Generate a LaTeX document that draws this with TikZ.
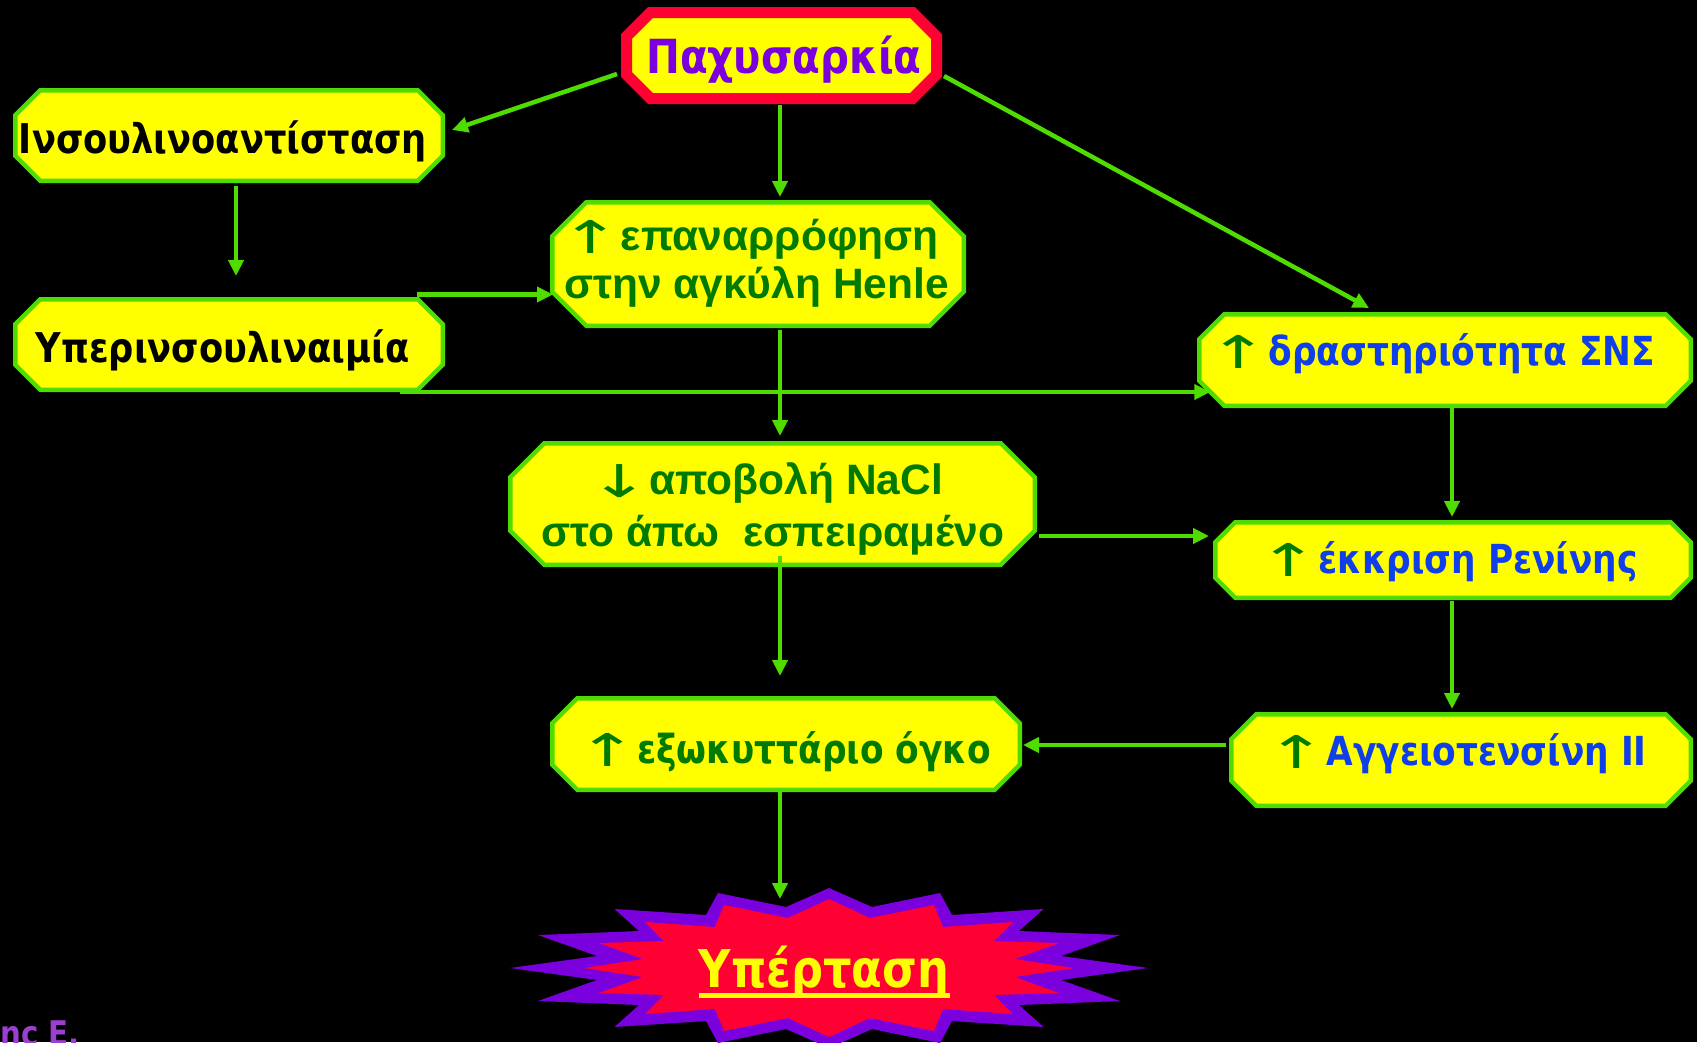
\documentclass[tikz,border=0pt]{standalone}
\usepackage{fontspec}
\setmainfont{Liberation Sans}
\newfontfamily\tah{DejaVu Sans}[FakeStretch=0.86]
\newfontfamily\ari{Liberation Sans}
\newfontfamily\arw{DejaVu Sans}
\usetikzlibrary{arrows.meta,calc}
\definecolor{byel}{HTML}{FFFF00}
\definecolor{bgreen}{HTML}{4FDC00}
\definecolor{bred}{HTML}{FF0033}
\definecolor{dgreen}{HTML}{007A00}
\definecolor{bblue}{HTML}{0F3FE8}
\definecolor{bpurple}{HTML}{7A00DD}
\definecolor{lpurple}{HTML}{9A3FD0}
\tikzset{
  conn/.style={draw=bgreen, line width=4.5pt, -{Triangle[length=16pt,width=15pt]}},
  boxnode/.style={inner sep=0pt, outer sep=0pt, draw=none, rectangle},
  gframe/.style={fill=byel, draw=bgreen, line width=4.5pt, line join=miter},
  rframe/.style={fill=byel, draw=bred, line width=11pt, line join=miter},
  tahtxt/.style={font=\tah\bfseries\fontsize{#1}{#1}\selectfont, inner sep=0pt, anchor=base},
  aritxt/.style={font=\ari\bfseries\fontsize{#1}{#1}\selectfont, inner sep=0pt, anchor=base},
}
\newcommand{\upar}{\kern-14pt\raisebox{-3pt}{\scalebox{1.8}[1.13]{\arw\mdseries\fontsize{40}{40}\selectfont ↑}}}
\newcommand{\dnar}{\kern-14pt\raisebox{-3pt}{\scalebox{1.8}[1.13]{\arw\mdseries\fontsize{40}{40}\selectfont ↓}}}
\newcommand{\chambox}[3]{\path[#3] ($(#1.north west)+(#2,0)$) -- ($(#1.north east)+(-#2,0)$) -- ($(#1.north east)+(0,#2)$) -- ($(#1.south east)+(0,-#2)$) -- ($(#1.south east)+(-#2,0)$) -- ($(#1.south west)+(#2,0)$) -- ($(#1.south west)+(0,-#2)$) -- ($(#1.north west)+(0,#2)$) -- cycle;}
\begin{document}
\begin{tikzpicture}[x=1pt,y=-1pt]
\path[use as bounding box, fill=black] (0,0) rectangle (1697,1042);
\coordinate (sp) at (780,0);
\coordinate (burst) at (829,968);
% boxes
\node[boxnode, minimum width=310pt, minimum height=86pt] (pax) at (781.5,55.5) {};
\chambox{pax}{24}{rframe}
\node[boxnode, minimum width=427.5pt, minimum height=90.5pt] (ins) at (229,135.5) {};
\chambox{ins}{25}{gframe}
\node[boxnode, minimum width=427.5pt, minimum height=90.5pt] (hyp) at (229,344.5) {};
\chambox{hyp}{25}{gframe}
\node[boxnode, minimum width=411.5pt, minimum height=123.5pt] (henle) at (758,264) {};
\chambox{henle}{34}{gframe}
\node[boxnode, minimum width=524.5pt, minimum height=121.5pt] (nacl) at (772.5,504) {};
\chambox{nacl}{34}{gframe}
\node[boxnode, minimum width=491.5pt, minimum height=91.5pt] (sns) at (1445,360) {};
\chambox{sns}{25}{gframe}
\node[boxnode, minimum width=475.5pt, minimum height=75.5pt] (renin) at (1453,560) {};
\chambox{renin}{20}{gframe}
\node[boxnode, minimum width=459.5pt, minimum height=91.5pt] (ang) at (1461,760) {};
\chambox{ang}{25}{gframe}
\node[boxnode, minimum width=467.5pt, minimum height=91.5pt] (ecf) at (786,744) {};
\chambox{ecf}{25}{gframe}
% starburst
\begin{scope}[shift={(burst)}]
\fill[bpurple] (-319,0) -- (-232,-12) -- (-291,-33) -- (-190,-37) -- (-214.5,-59) -- (-123,-53) -- (-111,-75) -- (-43,-61) -- (0,-80) -- (43,-61) -- (111,-75) -- (123,-53) -- (214.5,-59) -- (190,-37) -- (291,-33) -- (232,-12) -- (319,0) -- (232,12) -- (291,33) -- (190,37) -- (214.5,59) -- (123,53) -- (111,75) -- (43,61) -- (0,80) -- (-43,61) -- (-111,75) -- (-123,53) -- (-214.5,59) -- (-190,37) -- (-291,33) -- (-232,12) -- cycle;
\fill[bred] (-245,0) -- (-186,-9) -- (-230,-25) -- (-165,-27) -- (-184,-46) -- (-114,-41) -- (-105,-63) -- (-41,-50) -- (0,-69) -- (41,-50) -- (105,-63) -- (114,-41) -- (184,-46) -- (165,-27) -- (230,-25) -- (186,-9) -- (245,0) -- (186,9) -- (230,25) -- (165,27) -- (184,46) -- (114,41) -- (105,63) -- (41,50) -- (0,69) -- (-41,50) -- (-105,63) -- (-114,41) -- (-184,46) -- (-165,27) -- (-230,25) -- (-186,9) -- cycle;
\end{scope}
% texts
\node[tahtxt=47, text=bpurple] (paxT) at (784,73) {Παχυσαρκία};
\node[tahtxt=41, text=black] (insT) at (223,153) {Ινσουλινοαντίσταση};
\node[tahtxt=41, text=black] (hypT) at (222.5,362) {Υπερινσουλιναιμία};
\node[aritxt=42.5, text=dgreen] (henA) at (756.5,250) {\upar επαναρρόφηση};
\node[aritxt=42.5, text=dgreen] (henB) at (756.5,298) {στην αγκύλη Henle};
\node[aritxt=42.5, text=dgreen] (naclA) at (773,494) {\dnar αποβολή NaCl};
\node[aritxt=42.5, text=dgreen] (naclB) at (773,546) {στο άπω\ \ εσπειραμένο};
\node[tahtxt=40, text=bblue] (snsT) at (1438.5,365) {{\color{dgreen}\upar}δραστηριότητα ΣΝΣ};
\node[tahtxt=40, text=bblue] (renT) at (1455,573) {{\color{dgreen}\upar}έκκριση Ρενίνης};
\node[tahtxt=40, text=bblue] (angT) at (1463.5,765) {{\color{dgreen}\upar}Αγγειοτενσίνη II};
\node[tahtxt=40, text=dgreen] (ecfT) at (791,763) {\upar εξωκυττάριο όγκο};
\node[tahtxt=52, text=byel] (hytT) at (824,987) {Υπέρταση};
\draw[byel, line width=5pt] ($(hytT.base west)+(0,8)$) -- ($(hytT.base east)+(0,8)$);
\node[font=\tah\bfseries\fontsize{34}{34}\selectfont, text=lpurple, inner sep=0pt, anchor=base east] (auth) at (80,1045) {nc E.};
% connectors
\draw[conn] ($(pax.west)+(-9.5,18.5)$) -- ($(ins.east)+(9.25,-5.5)$);
\draw[conn] ($(sp |- pax.south)+(0,6.5)$) -- ($(sp |- henle.north)+(0,-5.25)$);
\draw[conn] ($(pax.east)+(7.5,20.5)$) -- ($(sns.north)+(-76,-6.25)$);
\draw[conn] ($(ins.south)+(7,5.25)$) -- ($(hyp.north)+(7,-23.25)$);
\draw[conn] ($(hyp.north east)+(-26,-4.75)$) -- ($(hyp.north east -| henle.west)+(0.75,-4.75)$);
\draw[conn] ($(hyp.south east)+(-43,2.25)$) -- ($(hyp.south east -| sns.west)+(11,2.25)$);
\draw[conn] ($(sp |- henle.south)+(0,4.25)$) -- ($(sp |- nacl.north)+(0,-7.25)$);
\draw[conn] ($(nacl.east)+(4.25,32)$) -- ($(nacl.east -| renin.west)+(-6.25,32)$);
\draw[conn] ($(sp |- nacl.south)+(0,-8.75)$) -- ($(sp |- ecf.north)+(0,-22.25)$);
\draw[conn] ($(sns.south)+(7,2.25)$) -- ($(sns.south |- renin.north)+(7,-5.25)$);
\draw[conn] ($(renin.south)+(-1,3.25)$) -- ($(renin.south |- ang.north)+(-1,-5.25)$);
\draw[conn] ($(ang.west)+(-5.25,-15)$) -- ($(ang.west -| ecf.east)+(3.25,-15)$);
\draw[conn] ($(sp |- ecf.south)+(0,2.25)$) -- ($(sp |- burst)+(0,-69)$);
\end{tikzpicture}
\end{document}
